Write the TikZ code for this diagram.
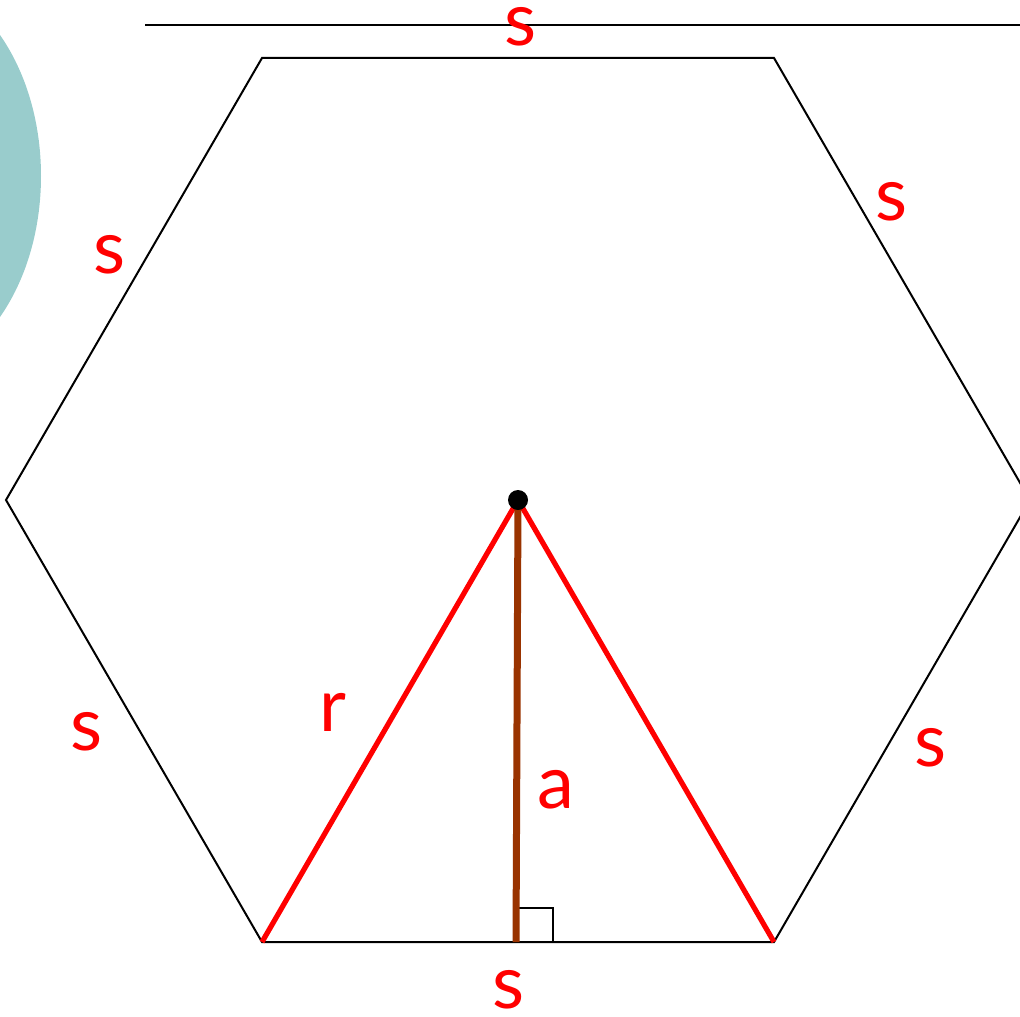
\documentclass[tikz,border=0pt]{standalone}
\usepackage{fontspec}
\setmainfont{Lato}
\begin{document}
\begin{tikzpicture}[x=0.5pt,y=-0.5pt,
  lbl/.style={text=red,font=\fontsize{37}{40}\selectfont,inner sep=0pt},
  edge/.style={black,line width=1pt},
  redline/.style={red,line width=2.6pt},
  apoth/.style={draw=apcol,line width=3.5pt}]
\useasboundingbox (0,0) rectangle (1020,1016);
\clip (0,0) rectangle (1020,1016);
\definecolor{tealbg}{HTML}{99CCCC}
\definecolor{apcol}{HTML}{993300}
\fill[tealbg] (-100,176) ellipse [x radius=141, y radius=200];
\coordinate (tl0) at (145,25);
\coordinate (tr0) at (1020,25);
\draw[edge] (tl0) -- (tr0);
\coordinate (A) at (262,58);
\coordinate (B) at (774,58);
\coordinate (C) at (1030,500);
\coordinate (D) at (774,942);
\coordinate (E) at (262,942);
\coordinate (F) at (6,500);
\coordinate (O) at (518,500);
\coordinate (M) at (516,942);
\draw[edge,line join=miter] (A) -- (B) -- (C) -- (D) -- (E) -- (F) -- cycle;
\draw[edge] (517,942) rectangle (553,908);
\draw[redline] (E) -- (O) -- (D);
\draw[apoth] (O) -- (M);
\fill[black] (O) circle (10);
\node[lbl] (s1) at (521,27) {s};
\node[lbl] (s2) at (110,255) {s};
\node[lbl] (s3) at (892,202) {s};
\node[lbl] (s4) at (87,732) {s};
\node[lbl] (s5) at (931,748) {s};
\node[lbl] (s6) at (509,990) {s};
\node[lbl] (r) at (333,712) {r};
\node[lbl] (a) at (556,790) {a};
\end{tikzpicture}
\end{document}
